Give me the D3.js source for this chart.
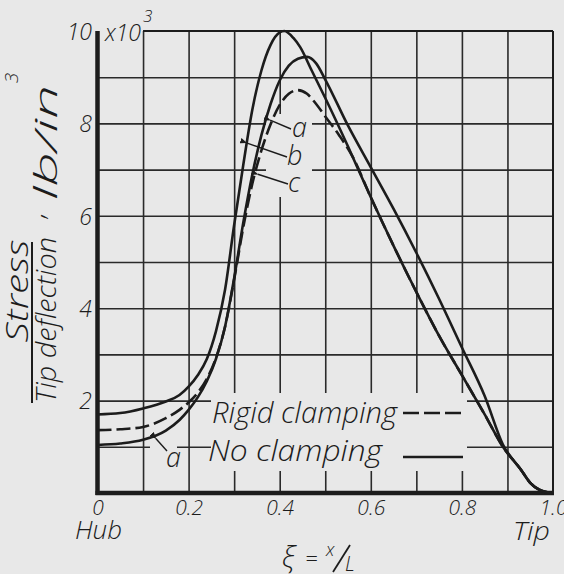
<!DOCTYPE html>
<html>
<head>
<meta charset="utf-8">
<script src="https://cdn.jsdelivr.net/npm/d3@7/dist/d3.min.js"></script>
<style>
  html, body { margin: 0; padding: 0; background: #e8e8e8; }
  svg { display: block; }
  text { font-family: "Open Sans", "Liberation Sans", sans-serif; font-style: italic; font-weight: 300; fill: #1c1c1c; }
</style>
</head>
<body>
<script>
// ---------- data ----------
const xTicks = [0, 0.2, 0.4, 0.6, 0.8, 1.0];
const xTickLabels = ["0", "0.2", "0.4", "0.6", "0.8", "1.0"];
const yTicks = [2, 4, 6, 8, 10];
const yTickLabels = ["2", "4", "6", "8", "10"];

// No clamping, upper solid curve (peak 10)
const noClampUpperX = [0, 0.05, 0.10, 0.15, 0.18, 0.20, 0.22, 0.24, 0.26, 0.28, 0.30, 0.32, 0.34, 0.36, 0.38, 0.40, 0.41, 0.43, 0.445, 0.47, 0.50, 0.55, 0.60, 0.65, 0.70, 0.75, 0.80, 0.85, 0.89, 0.93, 0.95, 0.97, 0.99, 1.0];
const noClampUpperY = [1.70, 1.73, 1.83, 1.98, 2.12, 2.30, 2.55, 2.90, 3.50, 4.40, 5.80, 7.10, 8.30, 9.15, 9.70, 9.97, 10.0, 9.85, 9.65, 9.15, 8.55, 7.5, 6.4, 5.35, 4.35, 3.4, 2.55, 1.7, 1.0, 0.5, 0.22, 0.07, 0.01, 0];

// No clamping, lower solid curve "a" (peak ~9.4)
const noClampLowerX = [0, 0.05, 0.10, 0.15, 0.18, 0.20, 0.22, 0.24, 0.26, 0.28, 0.30, 0.32, 0.34, 0.36, 0.38, 0.40, 0.42, 0.44, 0.46, 0.48, 0.50, 0.55, 0.60, 0.65, 0.70, 0.75, 0.80, 0.85, 0.89, 0.93, 0.95, 0.97, 0.99, 1.0];
const noClampLowerY = [1.04, 1.07, 1.15, 1.35, 1.58, 1.80, 2.07, 2.42, 2.90, 3.60, 4.65, 5.85, 6.90, 7.75, 8.42, 8.93, 9.25, 9.40, 9.44, 9.3, 8.95, 7.95, 7.05, 6.15, 5.2, 4.2, 3.15, 2.1, 1.05, 0.5, 0.22, 0.07, 0.01, 0];

// Rigid clamping, dashed curve (peak ~8.7)
const rigidX = [0, 0.05, 0.10, 0.15, 0.18, 0.20, 0.22, 0.24, 0.26, 0.28, 0.30, 0.32, 0.34, 0.36, 0.38, 0.40, 0.42, 0.44, 0.46, 0.48, 0.50, 0.53, 0.56, 0.60, 0.65, 0.70, 0.75, 0.80, 0.85, 0.89, 0.93, 0.95, 0.97, 0.99, 1.0];
const rigidY = [1.36, 1.38, 1.43, 1.62, 1.80, 1.96, 2.17, 2.47, 2.92, 3.60, 4.62, 5.75, 6.70, 7.42, 7.98, 8.40, 8.64, 8.72, 8.64, 8.42, 8.15, 7.75, 7.28, 6.4, 5.35, 4.35, 3.4, 2.55, 1.7, 1.0, 0.5, 0.22, 0.07, 0.01, 0];

// ---------- layout ----------
const W = 564, H = 574;
const svg = d3.select("body").append("svg").attr("width", W).attr("height", H);
svg.append("rect").attr("width", W).attr("height", H).attr("fill", "#e8e8e8");

const x = d3.scaleLinear().domain([0, 1]).range([97.5, 553]);
const y = d3.scaleLinear().domain([0, 10]).range([493, 31]);
const ink = "#1c1c1c";
const paper = "#e8e8e8";
const fontFam = "'Open Sans', 'Liberation Sans', sans-serif";

// grid via axes
const gridV = svg.append("g").attr("transform", `translate(0,${y(0)})`)
  .call(d3.axisBottom(x).tickValues(d3.range(1, 10).map(d => d / 10)).tickSize(-(y(0) - y(10))).tickFormat(""));
const gridH = svg.append("g").attr("transform", `translate(${x(0)},0)`)
  .call(d3.axisLeft(y).tickValues(d3.range(1, 10)).tickSize(-(x(1) - x(0))).tickFormat(""));
[gridV, gridH].forEach(g => {
  g.select(".domain").remove();
  g.selectAll(".tick line").attr("stroke", "#2a2a2a").attr("stroke-width", 1.6);
});

// gaps in the grid behind labels
svg.append("rect").attr("x", 211).attr("y", 393).attr("width", 256).attr("height", 78).attr("fill", paper);
svg.append("rect").attr("x", 150).attr("y", 438).attr("width", 27).attr("height", 20).attr("fill", paper);
svg.append("rect").attr("x", 266).attr("y", 114).attr("width", 46).attr("height", 83).attr("fill", paper);

// frame
svg.append("line").attr("x1", x(0.1)).attr("x2", x(1)).attr("y1", y(10)).attr("y2", y(10)).attr("stroke", ink).attr("stroke-width", 1.8);
svg.append("line").attr("x1", x(1)).attr("x2", x(1)).attr("y1", y(10)).attr("y2", y(0)).attr("stroke", ink).attr("stroke-width", 2);
svg.append("line").attr("x1", x(0)).attr("x2", x(0)).attr("y1", y(10)).attr("y2", y(0) + 2).attr("stroke", ink).attr("stroke-width", 4.5);
svg.append("line").attr("x1", x(0) - 2).attr("x2", x(1) + 1).attr("y1", y(0)).attr("y2", y(0)).attr("stroke", ink).attr("stroke-width", 4.5);

// tick labels via axes
const xAx = svg.append("g").attr("transform", `translate(0,${y(0)})`)
  .call(d3.axisBottom(x).tickValues(xTicks).tickSize(0).tickPadding(0).tickFormat((d, i) => xTickLabels[i]));
xAx.select(".domain").remove();
xAx.selectAll("text").attr("font-size", 21).attr("dy", 0).attr("y", 22)
  .style("font-family", fontFam).style("font-style", "italic").style("font-weight", 300).attr("fill", ink);

const yAx = svg.append("g").attr("transform", `translate(92,0)`)
  .call(d3.axisLeft(y).tickValues(yTicks).tickSize(0).tickPadding(0).tickFormat((d, i) => yTickLabels[i]));
yAx.select(".domain").remove();
yAx.selectAll("text").attr("font-size", 23).attr("dy", "0.36em")
  .style("font-family", fontFam).style("font-style", "italic").style("font-weight", 300).attr("fill", ink);

svg.append("text").attr("x", 105).attr("y", 41).attr("font-size", 23).text("x10");
svg.append("text").attr("x", 143).attr("y", 22).attr("font-size", 17).text("3");

// curves
const line = d3.line().x(d => x(d[0])).y(d => y(d[1])).curve(d3.curveMonotoneX);
const zip = (a, b) => a.map((v, i) => [v, b[i]]);
svg.append("path").datum(zip(noClampUpperX, noClampUpperY)).attr("d", line)
  .attr("fill", "none").attr("stroke", ink).attr("stroke-width", 2.6);
svg.append("path").datum(zip(noClampLowerX, noClampLowerY)).attr("d", line)
  .attr("fill", "none").attr("stroke", ink).attr("stroke-width", 2.6);
svg.append("path").datum(zip(rigidX, rigidY)).attr("d", line)
  .attr("fill", "none").attr("stroke", ink).attr("stroke-width", 2.6).attr("stroke-dasharray", "14,5");

// arrow marker
svg.append("defs").append("marker").attr("id", "arr").attr("viewBox", "0 0 10 10")
  .attr("refX", 1).attr("refY", 5).attr("markerWidth", 7).attr("markerHeight", 7)
  .attr("orient", "auto-start-reverse").attr("markerUnits", "userSpaceOnUse")
  .append("path").attr("d", "M0,5 L10,1 L10,9 Z").attr("fill", ink);

// leaders a, b, c
const leaders = [
  { tip: [0.379, 8.07], end: [291, 129], label: "a", lx: 292, ly: 137 },
  { tip: [0.327, 7.58], end: [287, 157], label: "b", lx: 287, ly: 165 },
  { tip: [0.352, 6.90], end: [288, 184], label: "c", lx: 288, ly: 192 },
  { tip: [0.128, 1.18], end: [167, 451], label: "a", lx: 166, ly: 467 }
];
leaders.forEach(l => {
  svg.append("line").attr("x1", x(l.tip[0])).attr("y1", y(l.tip[1]))
    .attr("x2", l.end[0]).attr("y2", l.end[1])
    .attr("stroke", ink).attr("stroke-width", 1.4).attr("marker-start", "url(#arr)");
  svg.append("text").attr("x", l.lx).attr("y", l.ly).attr("font-size", 27).text(l.label);
});

// legend
svg.append("text").attr("x", 212).attr("y", 423).attr("font-size", 30)
  .attr("textLength", 185).attr("lengthAdjust", "spacingAndGlyphs").text("Rigid clamping");
svg.append("line").attr("x1", 403).attr("x2", 463).attr("y1", 413).attr("y2", 413)
  .attr("stroke", ink).attr("stroke-width", 2.6).attr("stroke-dasharray", "16,5");
svg.append("text").attr("x", 208).attr("y", 461).attr("font-size", 30)
  .attr("textLength", 174).attr("lengthAdjust", "spacingAndGlyphs").text("No  clamping");
svg.append("line").attr("x1", 403).attr("x2", 463).attr("y1", 457).attr("y2", 457)
  .attr("stroke", ink).attr("stroke-width", 2.6);

// y-axis title
svg.append("text").attr("transform", "translate(28,291) rotate(-90)").attr("text-anchor", "middle")
  .attr("font-size", 31).attr("textLength", 103).attr("lengthAdjust", "spacingAndGlyphs").text("Stress");
svg.append("line").attr("x1", 32).attr("x2", 32).attr("y1", 242).attr("y2", 403).attr("stroke", ink).attr("stroke-width", 2);
svg.append("text").attr("transform", "translate(56,320) rotate(-90)").attr("text-anchor", "middle")
  .attr("font-size", 28).attr("textLength", 166).attr("lengthAdjust", "spacingAndGlyphs").text("Tip deflection");
svg.append("text").attr("transform", "translate(44,218) rotate(-90)").attr("font-size", 28).text(",");
svg.append("text").attr("transform", "translate(57,200) rotate(-90)").attr("font-size", 32)
  .attr("textLength", 115).attr("lengthAdjust", "spacingAndGlyphs").text("lb/in");
svg.append("text").attr("transform", "translate(18,78) rotate(-90)").attr("text-anchor", "middle")
  .attr("font-size", 19).text("3");

// x-axis title pieces
svg.append("text").attr("x", 75).attr("y", 539).attr("font-size", 25)
  .attr("textLength", 47).attr("lengthAdjust", "spacingAndGlyphs").text("Hub");
svg.append("text").attr("x", 513).attr("y", 540).attr("font-size", 25)
  .attr("textLength", 37).attr("lengthAdjust", "spacingAndGlyphs").text("Tip");
svg.append("text").attr("x", 282).attr("y", 567).attr("font-size", 30).text("ξ");
svg.append("text").attr("x", 305).attr("y", 566).attr("font-size", 22).text("=");
svg.append("text").attr("x", 326).attr("y", 556).attr("font-size", 18).text("x");
svg.append("line").attr("x1", 333).attr("y1", 572).attr("x2", 350).attr("y2", 545).attr("stroke", ink).attr("stroke-width", 1.8);
svg.append("text").attr("x", 345).attr("y", 571).attr("font-size", 20).text("L");
</script>
</body>
</html>
